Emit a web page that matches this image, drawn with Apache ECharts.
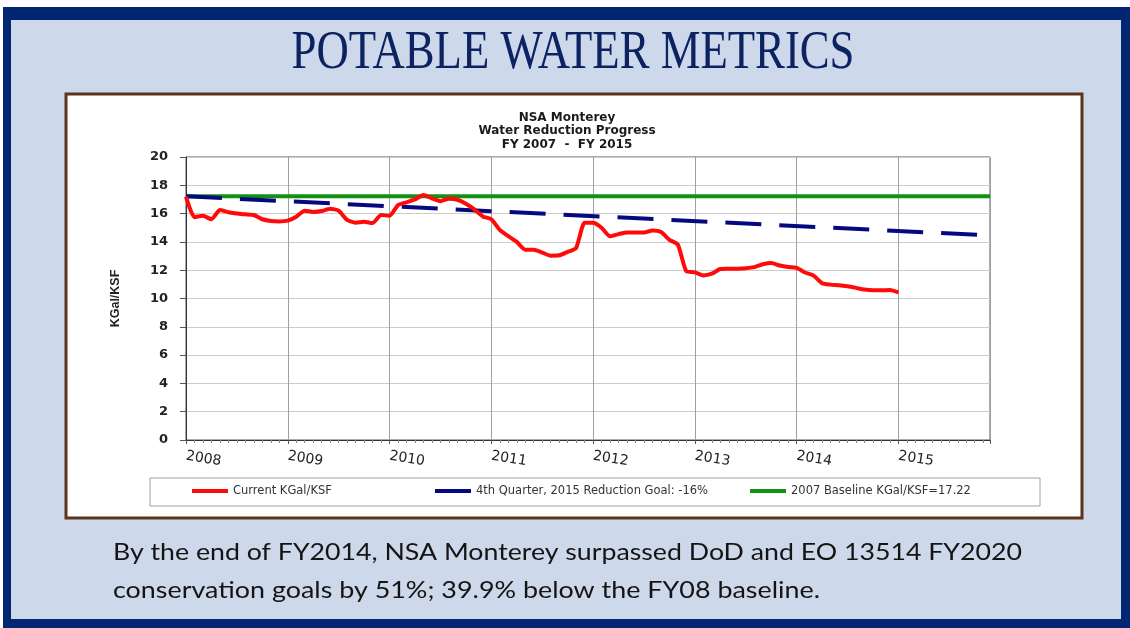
<!DOCTYPE html>
<html>
<head>
<meta charset="utf-8">
<script src="https://cdn.jsdelivr.net/npm/echarts@6/dist/echarts.min.js"></script>
<style>
html, body { margin: 0; padding: 0; background: #ffffff; }
#main { width: 1130px; height: 628px; }
</style>
</head>
<body>
<div id="main"></div>
<script>
// tick labels on the bottom axis (one per 12 months)
var yearLabels = ['2008', '2009', '2010', '2011', '2012', '2013', '2014', '2015'];

// Current KGal/KSF, one value per month from the start of 2008
var currentKgal = [
    17.2, 15.75, 15.85, 15.6, 16.25, 16.1, 16.0, 15.95, 15.9, 15.6,
    15.48, 15.45, 15.5, 15.78, 16.2, 16.12, 16.18, 16.35, 16.2, 15.55,
    15.36, 15.42, 15.34, 15.9, 15.85, 16.6, 16.8, 17.0, 17.32, 17.08,
    16.88, 17.05, 16.98, 16.7, 16.3, 15.8, 15.6, 14.85, 14.4, 14.0,
    13.45, 13.45, 13.25, 13.03, 13.05, 13.3, 13.57, 15.35, 15.35, 15.0,
    14.4, 14.55, 14.67, 14.67, 14.67, 14.8, 14.7, 14.15, 13.8, 11.92,
    11.85, 11.63, 11.75, 12.08, 12.1, 12.11, 12.14, 12.22, 12.42, 12.51,
    12.33, 12.22, 12.16, 11.84, 11.62, 11.08, 10.98, 10.94, 10.86, 10.75,
    10.63, 10.58, 10.58, 10.6, 10.43
];

// reduction goal line (month, value)
var goalMonths = [0, 94.8];
var goalKgal = [17.22, 14.46];

// 2007 baseline (month, value)
var baselineMonths = [0, 94.8];
var baselineKgal = [17.22, 17.22];

var seriesNames = ['Current KGal/KSF', '4th Quarter, 2015 Reduction Goal: -16%', '2007 Baseline KGal/KSF=17.22'];

function pairs(xs, ys) {
    var out = [];
    for (var i = 0; i < ys.length; i++) {
        out.push([xs ? xs[i] : i, ys[i]]);
    }
    return out;
}

// stretch a text to a given width, like the squeezed slide fonts
var measureCtx = document.createElement('canvas').getContext('2d');
function fitScale(text, font, width) {
    measureCtx.font = font;
    return width / measureCtx.measureText(text).width;
}

var headFont = '54px "Liberation Serif"';
var headText = 'POTABLE WATER METRICS';
var bodyFont = '24px Lato';
var bodyLine1 = 'By the end of FY2014, NSA Monterey surpassed DoD and EO 13514 FY2020';
var bodyLine2 = 'conservation goals by 51%; 39.9% below the FY08 baseline.';

var myChart = echarts.init(document.getElementById('main'));

var option = {
    animation: false,
    backgroundColor: '#ffffff',
    graphic: [
        { type: 'rect', z: -10, shape: { x: 3, y: 7, width: 1127, height: 621 }, style: { fill: '#022672' } },
        { type: 'rect', z: -9, shape: { x: 11, y: 20, width: 1110, height: 599 }, style: { fill: '#cdd8ea' } },
        { type: 'rect', z: -8, shape: { x: 66, y: 94, width: 1016, height: 424 }, style: { fill: '#ffffff', stroke: '#5c3418', lineWidth: 3 } },
        { type: 'rect', z: -7, shape: { x: 150, y: 478, width: 890, height: 28 }, style: { fill: '#ffffff', stroke: '#a0a0a0', lineWidth: 1 } },
        {
            type: 'text', z: 10, x: 573, y: 54,
            scaleX: fitScale(headText, headFont, 563),
            style: { text: headText, font: headFont, fill: '#0d2261', align: 'center', verticalAlign: 'middle' }
        },
        {
            type: 'text', z: 10, x: 113, y: 552,
            scaleX: fitScale(bodyLine1, bodyFont, 909),
            style: { text: bodyLine1, font: bodyFont, fill: '#141414', align: 'left', verticalAlign: 'middle' }
        },
        {
            type: 'text', z: 10, x: 113, y: 590,
            scaleX: fitScale(bodyLine2, bodyFont, 707),
            style: { text: bodyLine2, font: bodyFont, fill: '#141414', align: 'left', verticalAlign: 'middle' }
        }
    ],
    title: {
        text: 'NSA Monterey\nWater Reduction Progress\nFY 2007  -  FY 2015',
        left: 567,
        top: 111,
        textAlign: 'center',
        padding: 0,
        textStyle: {
            fontFamily: 'DejaVu Sans',
            fontWeight: 'bold',
            fontSize: 12,
            lineHeight: 13.5,
            color: '#1a1a1a'
        }
    },
    legend: [
        {
            data: [seriesNames[0]], left: 192, top: 485, padding: 0,
            icon: 'rect', itemWidth: 36, itemHeight: 4,
            textStyle: { fontFamily: 'DejaVu Sans', fontSize: 11.5, color: '#333' }
        },
        {
            data: [seriesNames[1]], left: 435, top: 485, padding: 0,
            icon: 'rect', itemWidth: 36, itemHeight: 4,
            textStyle: { fontFamily: 'DejaVu Sans', fontSize: 11.5, color: '#333' }
        },
        {
            data: [seriesNames[2]], left: 750, top: 485, padding: 0,
            icon: 'rect', itemWidth: 36, itemHeight: 4,
            textStyle: { fontFamily: 'DejaVu Sans', fontSize: 11.5, color: '#333' }
        }
    ],
    grid: {
        left: 186,
        right: 140,
        top: 157,
        bottom: 188,
        show: true,
        borderColor: '#555',
        borderWidth: 1,
        backgroundColor: 'transparent'
    },
    xAxis: {
        type: 'value',
        min: 0,
        max: 94.8,
        interval: 12,
        axisLine: { lineStyle: { color: '#333', width: 1 } },
        axisTick: { show: true, length: 4, lineStyle: { color: '#555' } },
        minorTick: { show: true, splitNumber: 12, length: 3, lineStyle: { color: '#888' } },
        splitLine: { show: true, lineStyle: { color: '#a0a0a0' } },
        axisLabel: {
            rotate: -9,
            margin: 16,
            showMaxLabel: false,
            fontFamily: 'DejaVu Sans',
            fontSize: 14,
            color: '#222',
            formatter: function (value) {
                if (value % 12 !== 0) return '';
                return yearLabels[value / 12] || '';
            }
        }
    },
    yAxis: {
        type: 'value',
        min: 0,
        max: 20,
        interval: 2,
        name: 'KGal/KSF',
        nameLocation: 'middle',
        nameGap: 64,
        nameTextStyle: { fontFamily: 'Liberation Sans', fontWeight: 'bold', fontSize: 12.5, color: '#222' },
        axisLine: { show: true, lineStyle: { color: '#333' } },
        axisTick: { show: true, length: 6, lineStyle: { color: '#555' } },
        splitLine: { show: true, lineStyle: { color: '#cccccc' } },
        axisLabel: { fontFamily: 'DejaVu Sans', fontWeight: 'bold', fontSize: 13, margin: 18, color: '#222' }
    },
    series: [
        {
            name: seriesNames[2],
            type: 'line',
            showSymbol: false,
            symbol: 'none',
            z: 3,
            itemStyle: { color: '#139113' },
            lineStyle: { color: '#139113', width: 4 },
            data: pairs(baselineMonths, baselineKgal)
        },
        {
            name: seriesNames[1],
            type: 'line',
            showSymbol: false,
            symbol: 'none',
            z: 4,
            itemStyle: { color: '#05087e' },
            lineStyle: { color: '#05087e', width: 4, type: [36, 18] },
            data: pairs(goalMonths, goalKgal)
        },
        {
            name: seriesNames[0],
            type: 'line',
            showSymbol: false,
            symbol: 'none',
            smooth: 0.2,
            z: 5,
            itemStyle: { color: '#ff0a0a' },
            lineStyle: { color: '#ff0a0a', width: 4 },
            data: pairs(null, currentKgal)
        }
    ]
};

myChart.setOption(option);
</script>
</body>
</html>
